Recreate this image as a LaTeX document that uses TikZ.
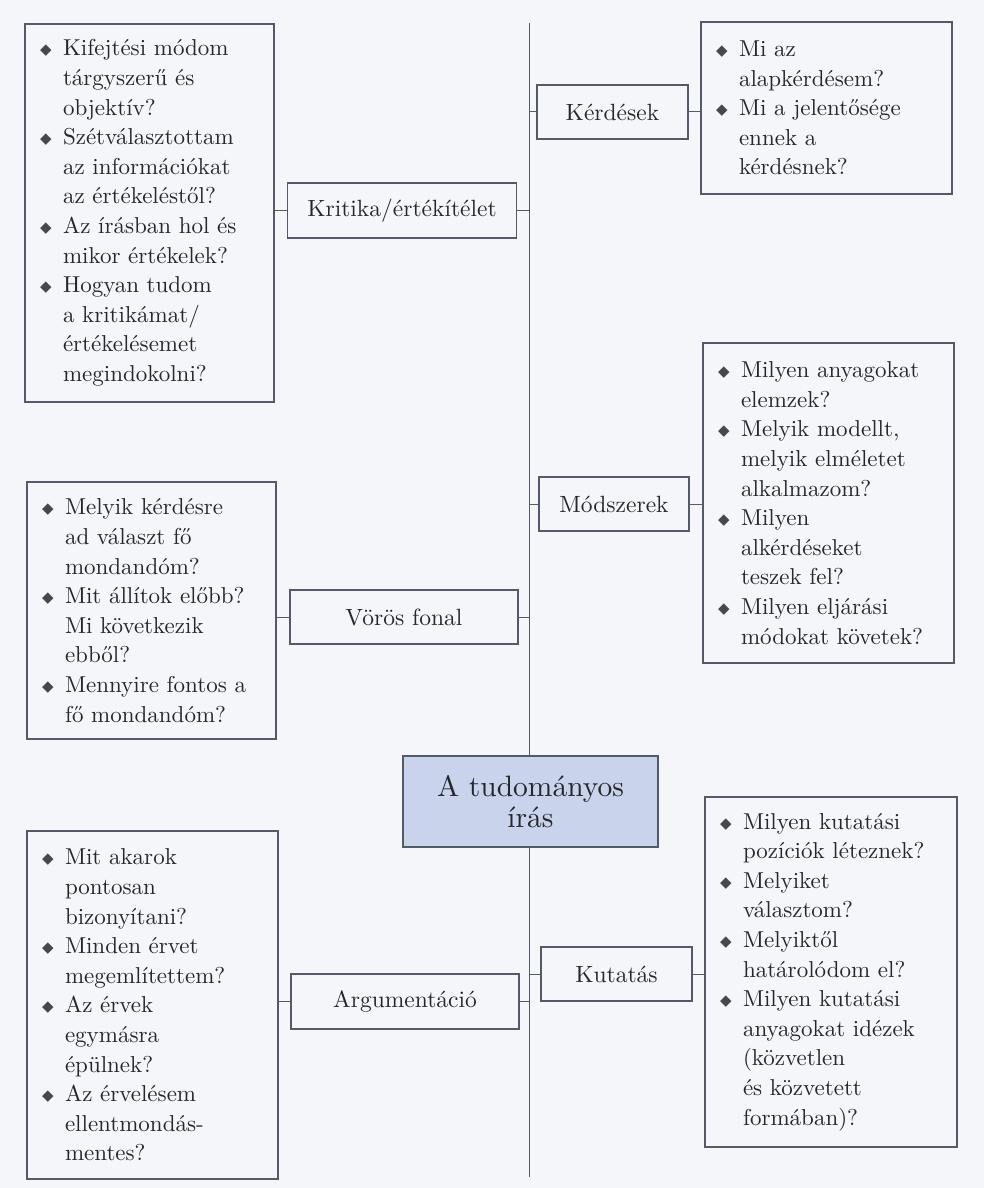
\documentclass[tikz,border=0pt]{standalone}
\usepackage{fontspec}
\setmainfont{lmroman10-regular.otf}
\newfontfamily\dejavu{DejaVu Sans}
\usepackage{xcolor}
\definecolor{bg}{HTML}{F4F6FA}
\definecolor{ink}{HTML}{26262C}
\definecolor{frame}{HTML}{555A6A}
\definecolor{core}{HTML}{C9D3EC}
\newcommand\bl{\makebox[22pt][l]{\hspace*{-1pt}\raisebox{1pt}{\color{ink!85}\dejavu\fontsize{15}{15}\selectfont ◆}}}
\newcommand\ind{\hspace*{22pt}}
\begin{document}
\begin{tikzpicture}[x=1pt,y=-1pt,
  every node/.style={text=ink},
  listbox/.style={draw=frame,line width=1.1pt,inner xsep=16pt,inner ysep=0pt,align=left,font=\fontsize{23}{29.6}\selectfont},
  labelbox/.style={draw=frame,line width=1.1pt,inner sep=0pt,align=center,font=\fontsize{23.5}{28}\selectfont},
  link/.style={draw=frame,line width=1pt}]
\fill[bg] (0,0) rectangle (984,1188);
\useasboundingbox (0,0) rectangle (984,1188);

% spine
\coordinate (top) at (529,23);
\coordinate (bot) at (529,1177);
\draw[link] (top) -- (bot);

% left side
\node[listbox, minimum width=249pt, minimum height=378pt, text width=217pt] (KL) at (149.5,213) {%
\bl Kifejtési módom\\ \ind tárgyszerű és\\ \ind objektív?\\
\bl Szétválasztottam\\ \ind az információkat\\ \ind az értékeléstől?\\
\bl Az írásban hol és\\ \ind mikor értékelek?\\
\bl Hogyan tudom\\ \ind a kritikámat/\\ \ind értékelésemet\\ \ind megindokolni?};
\node[labelbox, minimum width=229pt, minimum height=55pt] (K) at (402,210.5) {Kritika/értékítélet};

\node[listbox, minimum width=249pt, minimum height=257pt, text width=217pt] (VL) at (151.5,610.5) {%
\bl Melyik kérdésre\\ \ind ad választ fő\\ \ind mondandóm?\\
\bl Mit állítok előbb?\\ \ind Mi következik\\ \ind ebből?\\
\bl Mennyire fontos a\\ \ind fő mondandóm?};
\node[labelbox, minimum width=228pt, minimum height=54pt] (V) at (404,617) {Vörös fonal};

\node[listbox, minimum width=251pt, minimum height=348pt, text width=219pt] (AL) at (152.5,1005) {%
\bl Mit akarok\\ \ind pontosan\\ \ind bizonyítani?\\
\bl Minden érvet\\ \ind megemlítettem?\\
\bl Az érvek\\ \ind egymásra\\ \ind épülnek?\\
\bl Az érvelésem\\ \ind ellentmondás-\\ \ind mentes?};
\node[labelbox, minimum width=228pt, minimum height=55pt] (A) at (405,1001.5) {Argumentáció};

% right side
\node[labelbox, minimum width=151pt, minimum height=54pt] (Q) at (612.5,112) {Kérdések};
\node[listbox, minimum width=251pt, minimum height=172pt, text width=219pt] (QL) at (826.5,108) {%
\bl Mi az\\ \ind alapkérdésem?\\
\bl Mi a jelentősége\\ \ind ennek a\\ \ind kérdésnek?};

\node[labelbox, minimum width=150pt, minimum height=54pt] (M) at (614,504) {Módszerek};
\node[listbox, minimum width=251pt, minimum height=320pt, text width=219pt] (ML) at (828.5,503) {%
\bl Milyen anyagokat\\ \ind elemzek?\\
\bl Melyik modellt,\\ \ind melyik elméletet\\ \ind alkalmazom?\\
\bl Milyen\\ \ind alkérdéseket\\ \ind teszek fel?\\
\bl Milyen eljárási\\ \ind módokat követek?};

\node[labelbox, minimum width=151pt, minimum height=54pt] (R) at (616.5,974) {Kutatás};
\node[listbox, minimum width=252pt, minimum height=350pt, text width=220pt] (RL) at (831,972) {%
\bl Milyen kutatási\\ \ind pozíciók léteznek?\\
\bl Melyiket\\ \ind választom?\\
\bl Melyiktől\\ \ind határolódom el?\\
\bl Milyen kutatási\\ \ind anyagokat idézek\\ \ind (közvetlen\\ \ind és közvetett\\ \ind formában)?};

% centre
\node[draw=frame, fill=core, line width=1.1pt, minimum width=255pt, minimum height=91pt, inner sep=0pt, align=center, font=\fontsize{29.5}{31}\selectfont] (C) at (530.5,801.5) {A tudományos\\írás};

% connectors
\draw[link] (KL.east |- K.west) -- (K.west);
\draw[link] (K.east) -- (K.east -| top);
\draw[link] (VL.east |- V.west) -- (V.west);
\draw[link] (V.east) -- (V.east -| top);
\draw[link] (AL.east |- A.west) -- (A.west);
\draw[link] (A.east) -- (A.east -| top);
\draw[link] (Q.west -| top) -- (Q.west);
\draw[link] (Q.east) -- (Q.east -| QL.west);
\draw[link] (M.west -| top) -- (M.west);
\draw[link] (M.east) -- (M.east -| ML.west);
\draw[link] (R.west -| top) -- (R.west);
\draw[link] (R.east) -- (R.east -| RL.west);
\end{tikzpicture}
\end{document}
